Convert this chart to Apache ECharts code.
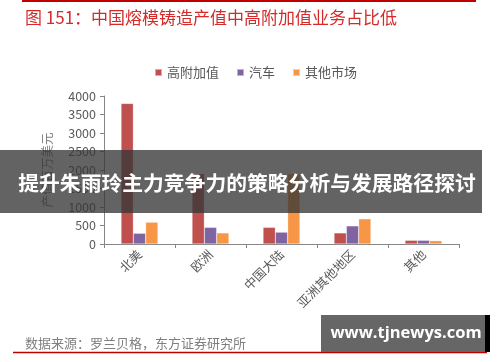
<!DOCTYPE html>
<html><head><meta charset="utf-8">
<script src="https://cdn.jsdelivr.net/npm/echarts@6/dist/echarts.min.js"></script>
<style>html,body{margin:0;padding:0;background:#fff}#c{width:500px;height:362px}</style>
</head><body><div id="c"></div>
<script>
const categories = ['北美', '欧洲', '中国大陆', '亚洲其他地区', '其他'];
const seriesNames = ['高附加值', '汽车', '其他市场'];
const highValue = [3800, 1900, 450, 300, 100];
const automotive = [290, 450, 320, 490, 100];
const otherMarket = [590, 300, 1900, 680, 90];
const yTicks = [0, 500, 1000, 1500, 2000, 2500, 3000, 3500, 4000];
const colors = ['#C0504D', '#8064A2', '#F79646'];
const font = '"Noto Sans CJK SC", "Noto Sans", sans-serif';

const chart = echarts.init(document.getElementById('c'), null, {renderer: 'canvas'});
const mk = (name, data, i) => ({
  name, type: 'bar', data, barGap: '0%', barCategoryGap: '48%',
  itemStyle: {color: colors[i], borderColor: 'rgba(255,255,255,0.5)', borderWidth: 0.5},
  z: 2
});
chart.setOption({
  animation: false,
  textStyle: {fontFamily: font},
  title: {text: '图 151：中国熔模铸造产值中高附加值业务占比低', left: 20, top: 4,
    textStyle: {fontSize: 17, fontWeight: 'normal', color: '#D42A2A', fontFamily: font}},
  legend: {top: 61, left: 149, icon: 'rect', itemWidth: 7, itemHeight: 7, itemGap: 17,
    textStyle: {fontSize: 13, color: '#595959', fontFamily: font}, data: seriesNames},
  grid: {left: 104, right: 41, top: 96, bottom: 118, containLabel: false},
  xAxis: {type: 'category', data: categories,
    axisLine: {lineStyle: {color: '#868686', width: 1}},
    axisTick: {show: true, length: 4, lineStyle: {color: '#868686'}},
    axisLabel: {rotate: 45, fontSize: 12.5, color: '#595959', margin: 8, fontFamily: font}},
  yAxis: {type: 'value', min: yTicks[0], max: yTicks[yTicks.length - 1], interval: 500,
    name: '产值百万美元', nameLocation: 'middle', nameGap: 50, nameRotate: 90,
    nameTextStyle: {fontSize: 12.5, color: '#7f7f7f', fontFamily: font},
    axisLine: {show: true, lineStyle: {color: '#868686'}},
    axisTick: {show: true, length: 4, lineStyle: {color: '#868686'}},
    splitLine: {show: false},
    axisLabel: {fontSize: 12.5, color: '#595959', margin: 8, fontFamily: font, formatter: v => String(v)}},
  series: [mk(seriesNames[0], highValue, 0), mk(seriesNames[1], automotive, 1), mk(seriesNames[2], otherMarket, 2)],
  graphic: [
    {type: 'line', shape: {x1: 22, y1: 1, x2: 476, y2: 1}, style: {stroke: '#C00000', lineWidth: 2}},
    {type: 'text', left: 25, top: 337, style: {text: '数据来源：罗兰贝格，东方证券研究所', fill: '#7f7f7f', font: '13px ' + font}},
    {type: 'line', shape: {x1: 13, y1: 352.5, x2: 487, y2: 352.5}, style: {stroke: '#C00000', lineWidth: 1.5}},
    {type: 'rect', shape: {x: 0, y: 150, width: 482, height: 63}, style: {fill: 'rgba(55,55,55,0.78)'}, z: 100},
    {type: 'text', x: 247, y: 183, z: 101, style: {text: '提升朱雨玲主力竞争力的策略分析与发展路径探讨', fill: '#fff',
      font: 'bold 20.8px ' + font, textAlign: 'center', textVerticalAlign: 'middle'}},
    {type: 'rect', shape: {x: 321, y: 315, width: 164, height: 37}, style: {fill: '#666666'}, z: 100},
    {type: 'rect', shape: {x: 485, y: 315, width: 5, height: 37}, style: {fill: '#000'}, z: 100},
    {type: 'text', x: 406, y: 333.5, z: 101, style: {text: 'www.tjnewys.com', fill: '#fff',
      font: 'bold 16.5px "Open Sans", sans-serif', textAlign: 'center', textVerticalAlign: 'middle'}}
  ]
});
</script></body></html>
